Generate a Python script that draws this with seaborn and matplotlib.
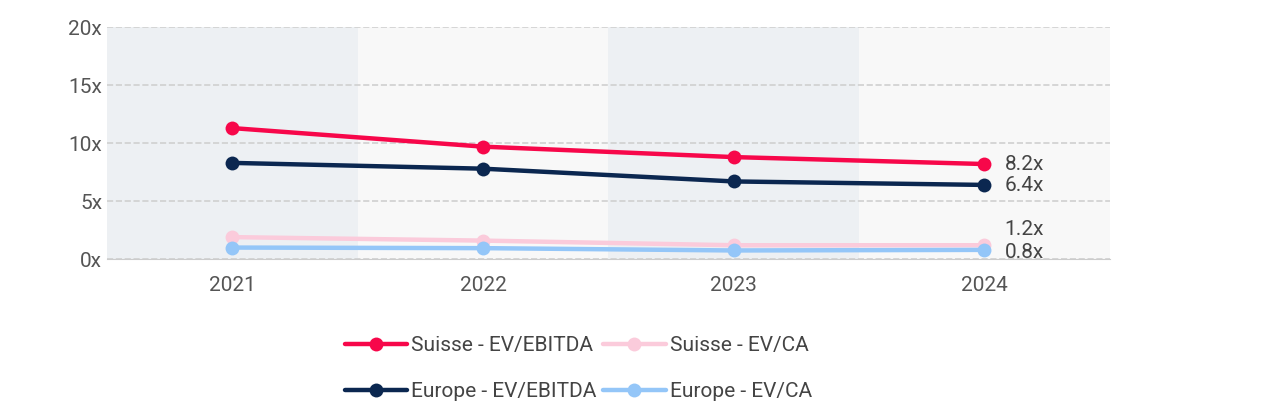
import matplotlib
matplotlib.use("Agg")
import matplotlib.pyplot as plt
import seaborn as sns
import pandas as pd

years = ["2021", "2022", "2023", "2024"]
suisse_ebitda = [11.3, 9.7, 8.8, 8.2]
europe_ebitda = [8.3, 7.8, 6.7, 6.4]
suisse_ca = [1.9, 1.6, 1.2, 1.2]
europe_ca = [1.0, 0.95, 0.75, 0.8]
labels = ["8.2x", "6.4x", "1.2x", "0.8x"]

series = [
    ("Suisse - EV/EBITDA", suisse_ebitda, "#f7074a"),
    ("Europe - EV/EBITDA", europe_ebitda, "#0b2750"),
    ("Suisse - EV/CA", suisse_ca, "#fbcbdb"),
    ("Europe - EV/CA", europe_ca, "#94c6f8"),
]

sns.set_style("white")
plt.rcParams['font.family'] = ['Roboto', 'DejaVu Sans']
fig = plt.figure(figsize=(12.79, 4.18), dpi=100)
ax = fig.add_axes([0.0837, 0.380, 0.784, 0.555])

for i in range(4):
    ax.axvspan(i - 0.5, i + 0.5, color="#edf0f3" if i % 2 == 0 else "#f8f8f8", zorder=0, lw=0)

for name, vals, col in series:
    df = pd.DataFrame({"x": range(4), "y": vals})
    sns.lineplot(data=df, x="x", y="y", ax=ax, color=col, lw=3.2, marker="o",
                 markersize=10, markeredgewidth=0, label=name, zorder=3)

offs = [0.0, -0.05, 1.4, -0.2]
for (name, vals, col), lab, o in zip(series, labels, offs):
    ax.text(3.08, vals[-1] + o, lab, va="center", ha="left", fontsize=15, color="#444444")

ax.set_xlim(-0.5, 3.5)
ax.set_ylim(0, 20)
ax.set_yticks([0, 5, 10, 15, 20])
ax.set_yticklabels([f"{v}x" for v in [0, 5, 10, 15, 20]])
ax.set_xticks(range(4))
ax.set_xticklabels(years)
ax.tick_params(labelsize=15, colors="#555555", length=0)
ax.tick_params(axis="x", pad=12)
ax.yaxis.grid(True, ls="--", color="#d0d0d0", lw=1.2, zorder=1)
for s in ["top", "right", "left"]:
    ax.spines[s].set_visible(False)
ax.spines["bottom"].set_color("#cccccc")
ax.set_xlabel("")
ax.set_ylabel("")

ax.legend(loc="upper center", bbox_to_anchor=(0.47, -0.25), ncol=2, frameon=False,
          fontsize=15, handlelength=3, columnspacing=0.3, handletextpad=0.2,
          labelspacing=1.3, labelcolor="#444444")

fig.savefig("out.png", dpi=100)
